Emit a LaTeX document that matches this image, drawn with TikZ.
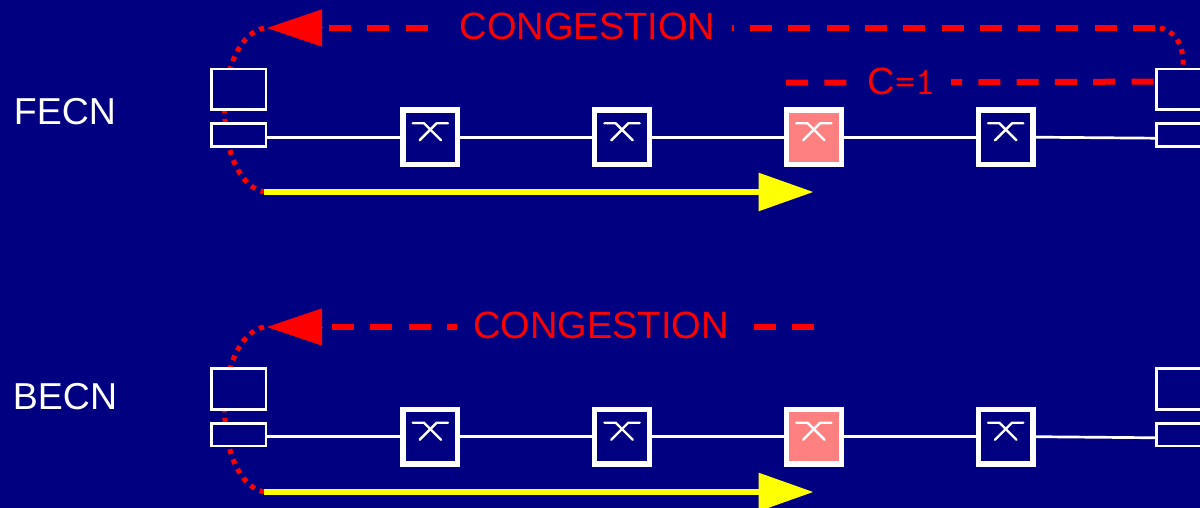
\documentclass[tikz,border=0pt]{standalone}
\usepackage{fontspec}
\setmainfont{Liberation Sans}
\usetikzlibrary{arrows.meta}
\definecolor{bgnavy}{HTML}{000080}
\definecolor{pinkfill}{HTML}{FF8080}
\definecolor{redc}{HTML}{FF0000}
\definecolor{yellowc}{HTML}{FFFF00}
\tikzset{
  hostbox/.style={draw=white,line width=2.6pt,fill=bgnavy,minimum width=54.7pt,inner sep=0pt,outer sep=0pt},
  upperbox/.style={hostbox,minimum height=40.7pt},
  lowerbox/.style={hostbox,minimum height=22.8pt},
  switchbox/.style={draw=white,line width=5.3pt,fill=bgnavy,minimum width=54.7pt,minimum height=54.7pt,inner sep=0pt,outer sep=2.65pt},
  hotswitch/.style={switchbox,fill=pinkfill},
  glyph/.style={draw=white,line width=2.4pt,line cap=round,line join=round},
  wire/.style={draw=white,line width=2.7pt},
  dottedred/.style={draw=redc,line width=5pt,dash pattern=on 5pt off 5.6pt},
  dashedred/.style={draw=redc,line width=6pt,dash pattern=on 22pt off 16.3pt},
  forwardarrow/.style={draw=yellowc,line width=6pt,-{Triangle[length=55pt,width=37pt,fill=yellowc]}},
  backarrow/.style={draw=redc,line width=1pt,-{Triangle[length=55pt,width=37pt,fill=redc]}},
  alert/.style={text=redc,font=\fontsize{38}{40}\selectfont,inner sep=0pt},
  side/.style={text=white,font=\fontsize{37.5}{40}\selectfont,inner sep=0pt}
}
\begin{document}
\begin{tikzpicture}[x=1pt,y=-1pt]
\useasboundingbox (0,0) rectangle (1200,508);
\clip (0,0) rectangle (1200,508);
\fill[bgnavy] (0,0) rectangle (1200,508);

% ---------- FECN ----------
\coordinate (tarrow) at (264,28);
\coordinate (tyellow) at (264,192);
\draw[dottedred] (tarrow) .. controls (240,33) and (224.7,68) .. (224.7,110)
                 .. controls (224.7,152) and (240,187) .. (tyellow);
\node[side] (fecn) at (65,112) {FECN};
\node[upperbox] (ta) at (238.65,89.35) {};
\node[lowerbox] (tb) at (238.65,135) {};
\node[upperbox] (tc) at (1183.7,89.35) {};
\node[lowerbox] (td) at (1183.7,135) {};
\node[switchbox] (t1) at (430.3,137.3) {};
\node[switchbox] (t2) at (622,137.3) {};
\node[hotswitch] (t3) at (813.8,137.3) {};
\node[switchbox] (t4) at (1005.7,137.3) {};
\draw[wire] (tb.east |- 0,137.2) -- (t1.west |- 0,137.2);
\draw[wire] (t1.east |- 0,137.2) -- (t2.west |- 0,137.2);
\draw[wire] (t2.east |- 0,137.2) -- (t3.west |- 0,137.2);
\draw[wire] (t3.east |- 0,137.2) -- (t4.west |- 0,137.2);
\draw[wire] (t4.east |- 0,137.2) -- (td.west |- 0,138.2);
\draw[forwardarrow] (tyellow) -- (813.5,192);

\node[alert] (tcong) at (587.5,26) {CONGESTION};
\coordinate (tdashstart) at (329,28);
\coordinate (tdashend) at (1160,28);
\draw[backarrow] (322.5,28) -- (267,28);
\draw[dashedred] (tdashstart) -- (430,28);
\draw[dashedred,dash phase=20.3pt] (732,28) -- (tdashend);
\draw[dottedred] (tdashend) .. controls (1172,30) and (1185,42) .. (tc.north -| 1183,0);

\node[alert,anchor=base west] (ceq) at (867,94.5) {C\kern1pt{\ttfamily\fontsize{39}{40}\selectfont =1}};
\draw[dashedred] (786,82.7) -- (849,82.6);
\draw[dashedred,dash phase=11pt] (951,82.2) -- (tc.west |- 0,81.6);

% ---------- BECN ----------
\coordinate (barrow) at (264,327);
\coordinate (byellow) at (264,492);
\draw[dottedred] (barrow) .. controls (240,332) and (224.7,367.5) .. (224.7,409.5)
                 .. controls (224.7,451.5) and (240,487) .. (byellow);
\node[side] (becn) at (65,397) {BECN};
\node[upperbox] (ba) at (238.65,389) {};
\node[lowerbox] (bb) at (238.65,434.7) {};
\node[upperbox] (bc) at (1183.7,389) {};
\node[lowerbox] (bd) at (1183.7,434.7) {};
\node[switchbox] (b1) at (430.3,436.7) {};
\node[switchbox] (b2) at (622,436.7) {};
\node[hotswitch] (b3) at (813.8,436.7) {};
\node[switchbox] (b4) at (1005.7,436.7) {};
\draw[wire] (bb.east |- 0,436.7) -- (b1.west |- 0,436.7);
\draw[wire] (b1.east |- 0,436.7) -- (b2.west |- 0,436.7);
\draw[wire] (b2.east |- 0,436.7) -- (b3.west |- 0,436.7);
\draw[wire] (b3.east |- 0,436.7) -- (b4.west |- 0,436.7);
\draw[wire] (b4.east |- 0,436.7) -- (bd.west |- 0,437.8);
\draw[forwardarrow] (byellow) -- (813.5,492);

\node[alert] (bcong) at (601,325) {CONGESTION};
\coordinate (bdashstart) at (332,327);
\coordinate (bdashend) at (814,327);
\draw[backarrow] (322.5,327) -- (267,327);
\draw[dashedred] (bdashstart) -- (457,327);
\draw[dashedred,dash phase=0pt] (753.5,327) -- (bdashend);

% ---------- switch glyphs ----------
\foreach \s in {t1,t2,t3,t4,b1,b2,b3,b4}{
  \draw[glyph] ([shift={(-17.6,-14)}]\s.center) -- ([shift={(-6.3,-14)}]\s.center) -- ([shift={(10.7,3)}]\s.center);
  \draw[glyph] ([shift={(17.6,-14)}]\s.center) -- ([shift={(6.3,-14)}]\s.center) -- ([shift={(-10.7,3)}]\s.center);
}
\end{tikzpicture}
\end{document}
